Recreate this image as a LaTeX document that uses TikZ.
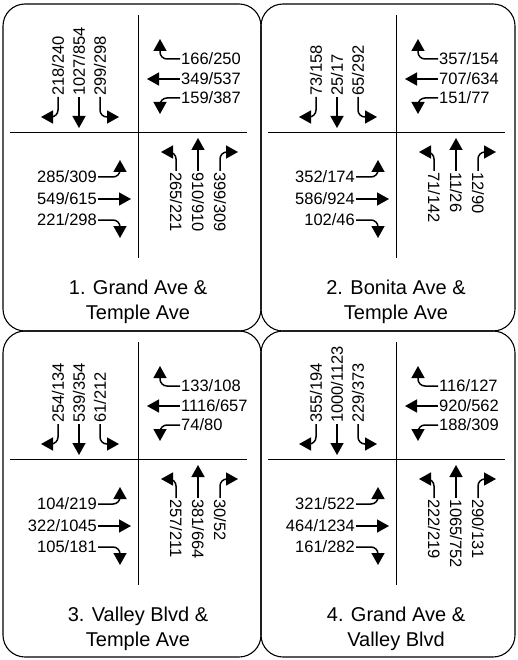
\documentclass[tikz,border=0pt]{standalone}
\usepackage{fontspec}
\setmainfont{Liberation Sans}
\usetikzlibrary{arrows.meta}

\tikzset{
	lane/.style = {line width=1.5pt, rounded corners=7pt, -{Triangle[length=12pt, width=13pt]}},
	count/.style = {inner sep=1pt, font=\fontsize{16.5}{18}\selectfont},
	street/.style = {line width=0.8pt},
	box/.style = {line width=1.1pt, rounded corners=22pt},
	title/.style = {align=center, font=\fontsize{20}{25}\selectfont},
}

% one quadrant per approach, three lanes each
\newcommand{\fromnorth}[3]{
	\node (nl) at (58, 97) [count, rotate=90, anchor=west] {#1};
	\node (nt) at (79, 97) [count, rotate=90, anchor=west] {#2};
	\node (nr) at (100, 97) [count, rotate=90, anchor=west] {#3};
	\draw [lane] (nl.west) |- ++(-17, 20);
	\draw [lane] (nt.west) -- ++(0, 31);
	\draw [lane] (nr.west) |- ++(19, 20);
}
\newcommand{\fromeast}[3]{
	\node (el) at (180, 59) [count, anchor=west] {#1};
	\node (et) at (180, 79) [count, anchor=west] {#2};
	\node (er) at (180, 98) [count, anchor=west] {#3};
	\draw [lane] (el.west) -| ++(-20, -20);
	\draw [lane] (et.west) -- ++(-33, 0);
	\draw [lane] (er.west) -| ++(-20, 16);
}
\newcommand{\fromwest}[3]{
	\node (wl) at (98, 177) [count, anchor=east] {#1};
	\node (wt) at (98, 199) [count, anchor=east] {#2};
	\node (wr) at (98, 220) [count, anchor=east] {#3};
	\draw [lane] (wl.east) -| ++(22, -17);
	\draw [lane] (wt.east) -- ++(33, 0);
	\draw [lane] (wr.east) -| ++(22, 18);
}
\newcommand{\fromsouth}[3]{
	\node (sl) at (176, 171) [count, rotate=-90, anchor=west] {#1};
	\node (st) at (198, 171) [count, rotate=-90, anchor=west] {#2};
	\node (sr) at (220, 171) [count, rotate=-90, anchor=west] {#3};
	\draw [lane] (sl.west) |- ++(-15, -19);
	\draw [lane] (st.west) -- ++(0, -33);
	\draw [lane] (sr.west) |- ++(18, -19);
}
\newcommand{\crossing}[2]{
	\draw [street] (138, 15) -- (138, 258);
	\draw [street] (10, 132) -- (247, 132);
	\node (name) at (138, 302) [title] {#1\\#2};
}

\begin{document}
\begin{tikzpicture}[x=1pt, y=-1pt]
	\useasboundingbox (0, 0) rectangle (518, 660);
	\draw [box] (3, 4) rectangle (261, 331);
	\draw [box] (261, 4) rectangle (515, 331);
	\draw [box] (3, 331) rectangle (261, 657);
	\draw [box] (261, 331) rectangle (515, 657);

	\begin{scope}[shift={(0, 0)}]
		\crossing{1. Grand Ave \&}{Temple Ave}
		\fromnorth{218/240}{1027/854}{299/298}
		\fromeast{166/250}{349/537}{159/387}
		\fromwest{285/309}{549/615}{221/298}
		\fromsouth{265/221}{910/910}{399/309}
	\end{scope}

	\begin{scope}[shift={(258, 0)}]
		\crossing{2. Bonita Ave \&}{Temple Ave}
		\fromnorth{73/158}{25/17}{65/292}
		\fromeast{357/154}{707/634}{151/77}
		\fromwest{352/174}{586/924}{102/46}
		\fromsouth{71/142}{11/26}{12/90}
	\end{scope}

	\begin{scope}[shift={(0, 327)}]
		\crossing{3. Valley Blvd \&}{Temple Ave}
		\fromnorth{254/134}{539/354}{61/212}
		\fromeast{133/108}{1116/657}{74/80}
		\fromwest{104/219}{322/1045}{105/181}
		\fromsouth{257/211}{381/664}{30/52}
	\end{scope}

	\begin{scope}[shift={(258, 327)}]
		\crossing{4. Grand Ave \&}{Valley Blvd}
		\fromnorth{355/194}{1000/1123}{229/373}
		\fromeast{116/127}{920/562}{188/309}
		\fromwest{321/522}{464/1234}{161/282}
		\fromsouth{222/219}{1065/752}{290/131}
	\end{scope}
\end{tikzpicture}
\end{document}
